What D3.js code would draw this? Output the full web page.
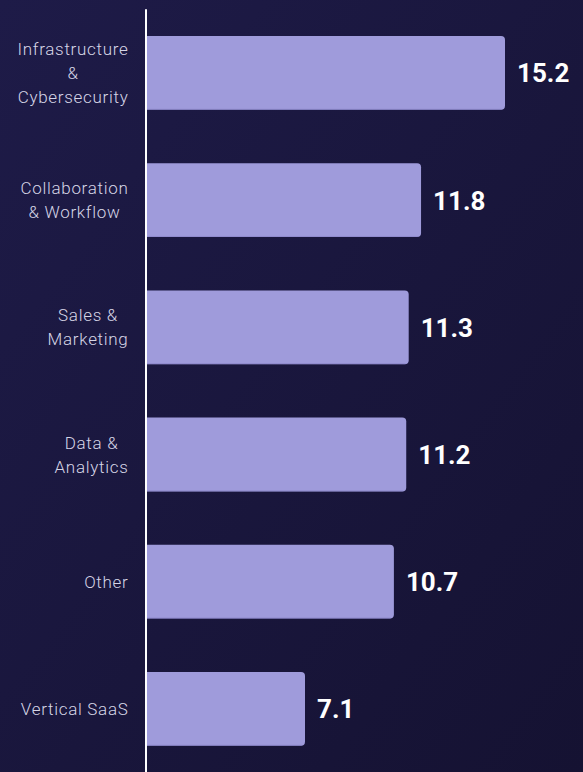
<!DOCTYPE html>
<html>
<head>
<meta charset="utf-8">
<script src="https://cdn.jsdelivr.net/npm/d3@7"></script>
<style>
  html, body { margin: 0; padding: 0; background: #1b1940; }
  svg { display: block; }
</style>
</head>
<body>
<svg id="chart" width="583" height="772"></svg>
<script>
// Segment names (lines broken where the label wraps) and their values
const categories = [
  "Infrastructure|&|Cybersecurity",
  "Collaboration|& Workflow",
  "Sales &|Marketing",
  "Data &|Analytics",
  "Other",
  "Vertical SaaS"
];
const values = [15.2, 11.8, 11.3, 11.2, 10.7, 7.1];
const valueLabels = ["15.2", "11.8", "11.3", "11.2", "10.7", "7.1"];

const W = 583, H = 772;
const axisX = 146;
const svg = d3.select("#chart");

// Background gradient
const defs = svg.append("defs");
const grad = defs.append("linearGradient")
  .attr("id", "bg").attr("x1", "0").attr("y1", "0").attr("x2", "1").attr("y2", "1");
grad.append("stop").attr("offset", "0%").attr("stop-color", "#1e1b48");
grad.append("stop").attr("offset", "100%").attr("stop-color", "#151232");
svg.append("rect").attr("width", W).attr("height", H).attr("fill", "url(#bg)");

defs.append("clipPath").attr("id", "plot")
  .append("rect").attr("x", axisX + 1).attr("y", 0).attr("width", W).attr("height", H);

const y = d3.scaleBand()
  .domain(categories)
  .range([9.3, 772.5])
  .paddingInner(0.42)
  .paddingOuter(0.21);

const x = d3.scaleLinear()
  .domain([0, 15.2])
  .range([129.7, 505]);

// Bars
svg.append("g").attr("clip-path", "url(#plot)")
  .selectAll("rect")
  .data(values)
  .join("rect")
  .attr("x", x(0) - 10)
  .attr("y", (d, i) => y(categories[i]))
  .attr("width", d => x(d) - x(0) + 10)
  .attr("height", y.bandwidth())
  .attr("rx", 4)
  .attr("fill", "#9f9bdb");

// Subtle darker rim on the bottom edge of each bar
svg.append("g").attr("clip-path", "url(#plot)")
  .selectAll("rect")
  .data(values)
  .join("rect")
  .attr("x", x(0))
  .attr("y", (d, i) => y(categories[i]) + y.bandwidth() - 1)
  .attr("width", d => x(d) - x(0) - 3)
  .attr("height", 1)
  .attr("fill", "#8580c4")
  .attr("opacity", 0.6);

// Value labels
svg.append("g")
  .selectAll("text")
  .data(values)
  .join("text")
  .attr("x", d => x(d) + 12)
  .attr("y", (d, i) => y(categories[i]) + y.bandwidth() / 2 + 9.5)
  .attr("fill", "#ffffff")
  .attr("font-family", "Roboto, 'Noto Sans', sans-serif")
  .attr("font-weight", 700)
  .attr("font-size", 26)
  .text((d, i) => valueLabels[i]);

// Category labels: lines centred on each other, block right-aligned to the axis
const labelG = svg.append("g")
  .attr("font-family", "Roboto, 'Noto Sans', sans-serif")
  .attr("font-weight", 300)
  .attr("font-size", 17)
  .attr("letter-spacing", 0.7)
  .attr("fill", "#d6d5e6");

categories.forEach(cat => {
  const lines = cat.split("|");
  const cy = y(cat) + y.bandwidth() / 2;
  const t = labelG.append("text").attr("text-anchor", "middle");
  lines.forEach((ln, k) => {
    t.append("tspan")
      .attr("y", cy + 6 + (k - (lines.length - 1) / 2) * 24)
      .text(ln);
  });
  let maxW = 0;
  t.selectAll("tspan").each(function () {
    maxW = Math.max(maxW, this.getComputedTextLength());
  });
  t.selectAll("tspan").attr("x", 128.5 - maxW / 2);
});

// Vertical axis line
svg.append("line")
  .attr("x1", axisX).attr("x2", axisX)
  .attr("y1", y.range()[0]).attr("y2", H)
  .attr("stroke", "#ffffff")
  .attr("stroke-width", 2);
</script>
</body>
</html>
